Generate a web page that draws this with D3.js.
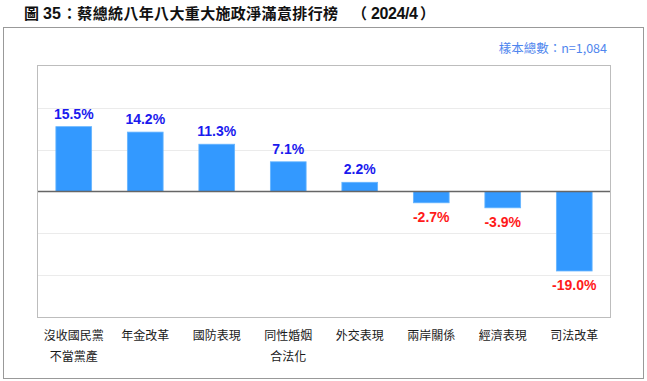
<!DOCTYPE html>
<html><head><meta charset="utf-8">
<script src="https://cdn.jsdelivr.net/npm/d3@7"></script>
<style>
body{margin:0;background:#fff;}
svg{display:block;}
</style></head>
<body>
<svg id="chart" width="647" height="381"></svg>
<script>
const categories = ["沒收國民黨\n不當黨產","年金改革","國防表現","同性婚姻\n合法化","外交表現","兩岸關係","經濟表現","司法改革"];
const values = [15.5, 14.2, 11.3, 7.1, 2.2, -2.7, -3.9, -19.0];
const gridTicks = [-20, -10, 10, 20];
const titleParts = [
  {t: "圖", x: 24, w: 15, latin: false},
  {t: "35", x: 43, w: 18, latin: true},
  {t: "：蔡總統八年八大重大施政淨滿意排行榜", x: 62, w: 276, latin: false},
  {t: "（", x: 352, w: 15, latin: false},
  {t: "2024/4", x: 371, w: 47, latin: true},
  {t: "）", x: 420, w: 13, latin: false}
];
const sampleNote = "樣本總數：n=1,084";

const svg = d3.select("#chart");
const W = 647, H = 381;
const plot = {l: 38, r: 610, t: 66, b: 317};

svg.append("rect").attr("width", W).attr("height", H).attr("fill", "#fff");

// title
const tg = svg.append("g").attr("font-weight", "bold").attr("fill", "#111");
titleParts.forEach(p => {
  tg.append("text").attr("x", p.x).attr("y", 18.5).text(p.t)
    .attr("font-family", p.latin ? "'Liberation Sans', Arial, sans-serif" : "'Noto Sans CJK TC', sans-serif")
    .attr("font-size", p.latin ? 16 : 15)
    .attr("textLength", p.w).attr("lengthAdjust", "spacing");
});

// outer frame
svg.append("rect").attr("x", 3.5).attr("y", 27.5).attr("width", 640).attr("height", 351)
  .attr("fill", "none").attr("stroke", "#999").attr("stroke-width", 1);

// sample note
svg.append("text").attr("x", 607).attr("y", 53).attr("text-anchor", "end")
  .attr("font-family", "'Noto Sans CJK TC', 'Liberation Sans', sans-serif")
  .attr("font-size", 12.5).attr("fill", "#4f86ee")
  .text(sampleNote);

const x = d3.scaleBand().domain(categories).range([plot.l, plot.r])
  .paddingInner(0.5).paddingOuter(0.25);
const y = d3.scaleLinear().domain([-30, 30]).range([plot.b, plot.t]);

// plot area border
svg.append("rect").attr("x", plot.l - 0.5).attr("y", plot.t - 0.5)
  .attr("width", plot.r - plot.l + 1).attr("height", plot.b - plot.t + 1)
  .attr("fill", "none").attr("stroke", "#bdbdbd").attr("stroke-width", 1);

// gridlines
svg.append("g").selectAll("line").data(gridTicks).join("line")
  .attr("x1", plot.l).attr("x2", plot.r)
  .attr("y1", d => Math.round(y(d)) + 0.5).attr("y2", d => Math.round(y(d)) + 0.5)
  .attr("stroke", "#ebebeb").attr("stroke-width", 1);

// bars
svg.append("g").selectAll("rect").data(values).join("rect")
  .attr("x", (d, i) => x(categories[i]))
  .attr("width", x.bandwidth())
  .attr("y", d => y(Math.max(0, d)))
  .attr("height", d => Math.abs(y(d) - y(0)))
  .attr("fill", "#3399ff").attr("stroke", "#66b5ff").attr("stroke-width", 0.8);

// zero line
svg.append("line").attr("x1", plot.l).attr("x2", plot.r)
  .attr("y1", y(0)).attr("y2", y(0))
  .attr("stroke", "#666").attr("stroke-width", 1.5);

// value labels
svg.append("g").selectAll("text").data(values).join("text")
  .attr("x", (d, i) => x(categories[i]) + x.bandwidth() / 2)
  .attr("y", d => d >= 0 ? y(d) - 8 : y(d) + 19)
  .attr("text-anchor", "middle")
  .attr("font-family", "'Liberation Sans', Arial, sans-serif")
  .attr("font-weight", "bold").attr("font-size", 14)
  .attr("fill", d => d >= 0 ? "#1a1aee" : "#ff1a1a")
  .text(d => d.toFixed(1) + "%");

// category labels
const cg = svg.append("g");
categories.forEach((c, i) => {
  const t = cg.append("text")
    .attr("x", x(c) + x.bandwidth() / 2).attr("y", 340)
    .attr("text-anchor", "middle")
    .attr("font-family", "'Noto Sans CJK TC', sans-serif")
    .attr("font-size", 12).attr("fill", "#1a1a1a");
  c.split("\n").forEach((line, j) => {
    t.append("tspan").attr("x", x(c) + x.bandwidth() / 2).attr("dy", j === 0 ? 0 : 21).text(line);
  });
});
</script>
</body></html>
